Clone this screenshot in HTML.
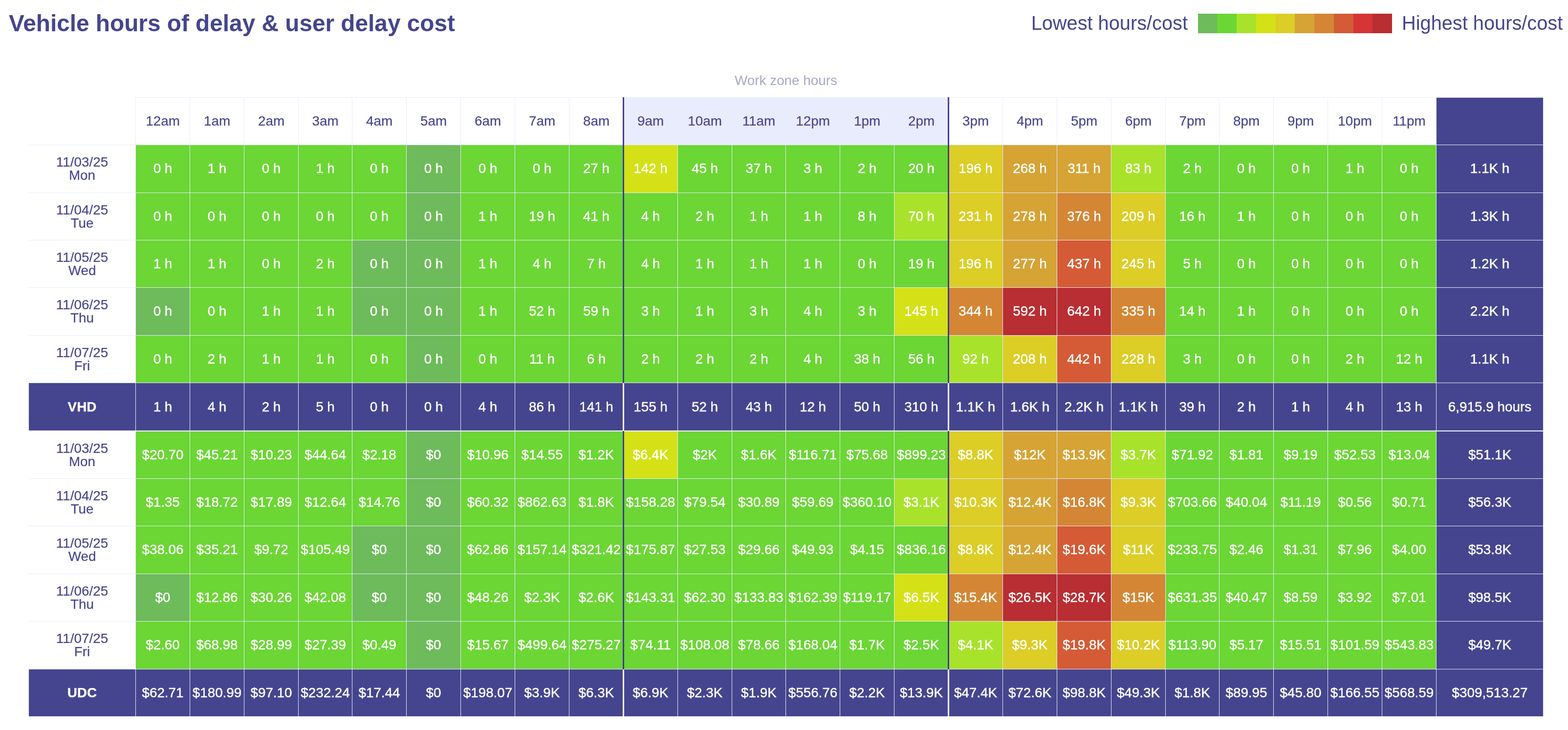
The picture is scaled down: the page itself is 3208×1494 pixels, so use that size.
<!DOCTYPE html>
<html lang="en"><head><meta charset="utf-8">
<title>Vehicle hours of delay &amp; user delay cost</title>
<style>
html,body{margin:0;padding:0;background:#fff;}
body{width:3208px;height:1494px;position:relative;overflow:hidden;font-family:"Liberation Sans",Arial,Helvetica,sans-serif;color:#45458f;}
h1{position:absolute;margin:0;left:18px;top:19px;font-size:47.76px;line-height:58px;font-weight:bold;white-space:nowrap;color:#45458f;}
.lg{position:absolute;font-size:39.75px;line-height:48px;top:23px;white-space:nowrap;color:#45458f;}
.sw{position:absolute;top:28px;height:40px;}
.wz{position:absolute;font-size:27.85px;line-height:36px;top:147px;left:1275px;width:666px;text-align:center;color:#a6a9c9;white-space:nowrap;}
.c,.t,.s{-webkit-text-stroke:0.4px;}
.s.b{-webkit-text-stroke:.25px;}
.h,.l{-webkit-text-stroke:.2px;}
.c,.h,.l,.t,.s{position:absolute;box-sizing:border-box;display:flex;align-items:center;justify-content:center;text-align:center;white-space:nowrap;font-size:27.85px;line-height:28px;border:0 solid #e8ecfc;border-top-width:1px;border-left-width:1px;}
.c{color:#fff;padding-bottom:1px;}
.h{color:#45458f;background:#fff;padding-bottom:1px;}
.h.z{background:#e8ecfd;}
.l{color:#45458f;background:#fff;flex-direction:column;border-left-width:0;line-height:27px;padding-bottom:1px;}
.t{color:#fff;background:#45458f;padding-bottom:1px;}
.r{border-right:1px solid #f1f3fe;}
.s{color:#fff;background:#45458f;border-bottom:1px solid #fff;padding-bottom:0px;}
.s.b{font-weight:bold;border-left-width:0;}
.vl{position:absolute;width:3px;background:#423d91;}
.vl.w{background:#fff;}

.k0{background:#6dbb5a;}
.k1{background:#6bd634;}
.k2{background:#a9e22b;}
.k3{background:#d4e117;}
.k4{background:#dccd27;}
.k5{background:#d6a335;}
.k6{background:#d48635;}
.k7{background:#d45b35;}
.k8{background:#d53535;}
.k9{background:#b82e32;}
</style></head><body>
<header>
<h1>Vehicle hours of delay &amp; user delay cost</h1>
<div class="legend">
<span class="lg" style="right:778px">Lowest hours/cost</span>
<span class="sw k0" style="left:2451px;width:39px"></span>
<span class="sw k1" style="left:2490px;width:40px"></span>
<span class="sw k2" style="left:2530px;width:40px"></span>
<span class="sw k3" style="left:2570px;width:40px"></span>
<span class="sw k4" style="left:2610px;width:39px"></span>
<span class="sw k5" style="left:2649px;width:40px"></span>
<span class="sw k6" style="left:2689px;width:40px"></span>
<span class="sw k7" style="left:2729px;width:40px"></span>
<span class="sw k8" style="left:2769px;width:39px"></span>
<span class="sw k9" style="left:2808px;width:40px"></span>
<span class="lg" style="left:2868px">Highest hours/cost</span>
</div>
</header>
<main class="heatmap" role="table" aria-label="Vehicle hours of delay and user delay cost by hour">
<div class="wz">Work zone hours</div>
<div class="row" role="row">
<div class="h" style="left:277px;top:199px;width:111px;height:97px">12am</div>
<div class="h" style="left:388px;top:199px;width:111px;height:97px">1am</div>
<div class="h" style="left:499px;top:199px;width:111px;height:97px">2am</div>
<div class="h" style="left:610px;top:199px;width:110px;height:97px">3am</div>
<div class="h" style="left:720px;top:199px;width:111px;height:97px">4am</div>
<div class="h" style="left:831px;top:199px;width:111px;height:97px">5am</div>
<div class="h" style="left:942px;top:199px;width:111px;height:97px">6am</div>
<div class="h" style="left:1053px;top:199px;width:111px;height:97px">7am</div>
<div class="h" style="left:1164px;top:199px;width:111px;height:97px">8am</div>
<div class="h z" style="left:1275px;top:199px;width:111px;height:97px">9am</div>
<div class="h z" style="left:1386px;top:199px;width:111px;height:97px">10am</div>
<div class="h z" style="left:1497px;top:199px;width:110px;height:97px">11am</div>
<div class="h z" style="left:1607px;top:199px;width:111px;height:97px">12pm</div>
<div class="h z" style="left:1718px;top:199px;width:111px;height:97px">1pm</div>
<div class="h z" style="left:1829px;top:199px;width:111px;height:97px">2pm</div>
<div class="h" style="left:1940px;top:199px;width:111px;height:97px">3pm</div>
<div class="h" style="left:2051px;top:199px;width:111px;height:97px">4pm</div>
<div class="h" style="left:2162px;top:199px;width:111px;height:97px">5pm</div>
<div class="h" style="left:2273px;top:199px;width:111px;height:97px">6pm</div>
<div class="h" style="left:2384px;top:199px;width:110px;height:97px">7pm</div>
<div class="h" style="left:2494px;top:199px;width:111px;height:97px">8pm</div>
<div class="h" style="left:2605px;top:199px;width:111px;height:97px">9pm</div>
<div class="h" style="left:2716px;top:199px;width:111px;height:97px">10pm</div>
<div class="h" style="left:2827px;top:199px;width:111px;height:97px">11pm</div>
<div class="t r" style="left:2938px;top:199px;width:220px;height:97px"></div>
</div>
<div class="row" role="row">
<div class="l" style="left:59px;top:296px;width:218px;height:98px"><span>11/03/25</span><span>Mon</span></div>
<div class="c k1" style="left:277px;top:296px;width:111px;height:98px">0 h</div>
<div class="c k1" style="left:388px;top:296px;width:111px;height:98px">1 h</div>
<div class="c k1" style="left:499px;top:296px;width:111px;height:98px">0 h</div>
<div class="c k1" style="left:610px;top:296px;width:110px;height:98px">1 h</div>
<div class="c k1" style="left:720px;top:296px;width:111px;height:98px">0 h</div>
<div class="c k0" style="left:831px;top:296px;width:111px;height:98px">0 h</div>
<div class="c k1" style="left:942px;top:296px;width:111px;height:98px">0 h</div>
<div class="c k1" style="left:1053px;top:296px;width:111px;height:98px">0 h</div>
<div class="c k1" style="left:1164px;top:296px;width:111px;height:98px">27 h</div>
<div class="c k3" style="left:1275px;top:296px;width:111px;height:98px">142 h</div>
<div class="c k1" style="left:1386px;top:296px;width:111px;height:98px">45 h</div>
<div class="c k1" style="left:1497px;top:296px;width:110px;height:98px">37 h</div>
<div class="c k1" style="left:1607px;top:296px;width:111px;height:98px">3 h</div>
<div class="c k1" style="left:1718px;top:296px;width:111px;height:98px">2 h</div>
<div class="c k1" style="left:1829px;top:296px;width:111px;height:98px">20 h</div>
<div class="c k4" style="left:1940px;top:296px;width:111px;height:98px">196 h</div>
<div class="c k5" style="left:2051px;top:296px;width:111px;height:98px">268 h</div>
<div class="c k5" style="left:2162px;top:296px;width:111px;height:98px">311 h</div>
<div class="c k2" style="left:2273px;top:296px;width:111px;height:98px">83 h</div>
<div class="c k1" style="left:2384px;top:296px;width:110px;height:98px">2 h</div>
<div class="c k1" style="left:2494px;top:296px;width:111px;height:98px">0 h</div>
<div class="c k1" style="left:2605px;top:296px;width:111px;height:98px">0 h</div>
<div class="c k1" style="left:2716px;top:296px;width:111px;height:98px">1 h</div>
<div class="c k1" style="left:2827px;top:296px;width:111px;height:98px">0 h</div>
<div class="t r" style="left:2938px;top:296px;width:220px;height:98px">1.1K h</div>
</div>
<div class="row" role="row">
<div class="l" style="left:59px;top:394px;width:218px;height:97px"><span>11/04/25</span><span>Tue</span></div>
<div class="c k1" style="left:277px;top:394px;width:111px;height:97px">0 h</div>
<div class="c k1" style="left:388px;top:394px;width:111px;height:97px">0 h</div>
<div class="c k1" style="left:499px;top:394px;width:111px;height:97px">0 h</div>
<div class="c k1" style="left:610px;top:394px;width:110px;height:97px">0 h</div>
<div class="c k1" style="left:720px;top:394px;width:111px;height:97px">0 h</div>
<div class="c k0" style="left:831px;top:394px;width:111px;height:97px">0 h</div>
<div class="c k1" style="left:942px;top:394px;width:111px;height:97px">1 h</div>
<div class="c k1" style="left:1053px;top:394px;width:111px;height:97px">19 h</div>
<div class="c k1" style="left:1164px;top:394px;width:111px;height:97px">41 h</div>
<div class="c k1" style="left:1275px;top:394px;width:111px;height:97px">4 h</div>
<div class="c k1" style="left:1386px;top:394px;width:111px;height:97px">2 h</div>
<div class="c k1" style="left:1497px;top:394px;width:110px;height:97px">1 h</div>
<div class="c k1" style="left:1607px;top:394px;width:111px;height:97px">1 h</div>
<div class="c k1" style="left:1718px;top:394px;width:111px;height:97px">8 h</div>
<div class="c k2" style="left:1829px;top:394px;width:111px;height:97px">70 h</div>
<div class="c k4" style="left:1940px;top:394px;width:111px;height:97px">231 h</div>
<div class="c k5" style="left:2051px;top:394px;width:111px;height:97px">278 h</div>
<div class="c k6" style="left:2162px;top:394px;width:111px;height:97px">376 h</div>
<div class="c k4" style="left:2273px;top:394px;width:111px;height:97px">209 h</div>
<div class="c k1" style="left:2384px;top:394px;width:110px;height:97px">16 h</div>
<div class="c k1" style="left:2494px;top:394px;width:111px;height:97px">1 h</div>
<div class="c k1" style="left:2605px;top:394px;width:111px;height:97px">0 h</div>
<div class="c k1" style="left:2716px;top:394px;width:111px;height:97px">0 h</div>
<div class="c k1" style="left:2827px;top:394px;width:111px;height:97px">0 h</div>
<div class="t r" style="left:2938px;top:394px;width:220px;height:97px">1.3K h</div>
</div>
<div class="row" role="row">
<div class="l" style="left:59px;top:491px;width:218px;height:97px"><span>11/05/25</span><span>Wed</span></div>
<div class="c k1" style="left:277px;top:491px;width:111px;height:97px">1 h</div>
<div class="c k1" style="left:388px;top:491px;width:111px;height:97px">1 h</div>
<div class="c k1" style="left:499px;top:491px;width:111px;height:97px">0 h</div>
<div class="c k1" style="left:610px;top:491px;width:110px;height:97px">2 h</div>
<div class="c k0" style="left:720px;top:491px;width:111px;height:97px">0 h</div>
<div class="c k0" style="left:831px;top:491px;width:111px;height:97px">0 h</div>
<div class="c k1" style="left:942px;top:491px;width:111px;height:97px">1 h</div>
<div class="c k1" style="left:1053px;top:491px;width:111px;height:97px">4 h</div>
<div class="c k1" style="left:1164px;top:491px;width:111px;height:97px">7 h</div>
<div class="c k1" style="left:1275px;top:491px;width:111px;height:97px">4 h</div>
<div class="c k1" style="left:1386px;top:491px;width:111px;height:97px">1 h</div>
<div class="c k1" style="left:1497px;top:491px;width:110px;height:97px">1 h</div>
<div class="c k1" style="left:1607px;top:491px;width:111px;height:97px">1 h</div>
<div class="c k1" style="left:1718px;top:491px;width:111px;height:97px">0 h</div>
<div class="c k1" style="left:1829px;top:491px;width:111px;height:97px">19 h</div>
<div class="c k4" style="left:1940px;top:491px;width:111px;height:97px">196 h</div>
<div class="c k5" style="left:2051px;top:491px;width:111px;height:97px">277 h</div>
<div class="c k7" style="left:2162px;top:491px;width:111px;height:97px">437 h</div>
<div class="c k4" style="left:2273px;top:491px;width:111px;height:97px">245 h</div>
<div class="c k1" style="left:2384px;top:491px;width:110px;height:97px">5 h</div>
<div class="c k1" style="left:2494px;top:491px;width:111px;height:97px">0 h</div>
<div class="c k1" style="left:2605px;top:491px;width:111px;height:97px">0 h</div>
<div class="c k1" style="left:2716px;top:491px;width:111px;height:97px">0 h</div>
<div class="c k1" style="left:2827px;top:491px;width:111px;height:97px">0 h</div>
<div class="t r" style="left:2938px;top:491px;width:220px;height:97px">1.2K h</div>
</div>
<div class="row" role="row">
<div class="l" style="left:59px;top:588px;width:218px;height:98px"><span>11/06/25</span><span>Thu</span></div>
<div class="c k0" style="left:277px;top:588px;width:111px;height:98px">0 h</div>
<div class="c k1" style="left:388px;top:588px;width:111px;height:98px">0 h</div>
<div class="c k1" style="left:499px;top:588px;width:111px;height:98px">1 h</div>
<div class="c k1" style="left:610px;top:588px;width:110px;height:98px">1 h</div>
<div class="c k0" style="left:720px;top:588px;width:111px;height:98px">0 h</div>
<div class="c k0" style="left:831px;top:588px;width:111px;height:98px">0 h</div>
<div class="c k1" style="left:942px;top:588px;width:111px;height:98px">1 h</div>
<div class="c k1" style="left:1053px;top:588px;width:111px;height:98px">52 h</div>
<div class="c k1" style="left:1164px;top:588px;width:111px;height:98px">59 h</div>
<div class="c k1" style="left:1275px;top:588px;width:111px;height:98px">3 h</div>
<div class="c k1" style="left:1386px;top:588px;width:111px;height:98px">1 h</div>
<div class="c k1" style="left:1497px;top:588px;width:110px;height:98px">3 h</div>
<div class="c k1" style="left:1607px;top:588px;width:111px;height:98px">4 h</div>
<div class="c k1" style="left:1718px;top:588px;width:111px;height:98px">3 h</div>
<div class="c k3" style="left:1829px;top:588px;width:111px;height:98px">145 h</div>
<div class="c k6" style="left:1940px;top:588px;width:111px;height:98px">344 h</div>
<div class="c k9" style="left:2051px;top:588px;width:111px;height:98px">592 h</div>
<div class="c k9" style="left:2162px;top:588px;width:111px;height:98px">642 h</div>
<div class="c k6" style="left:2273px;top:588px;width:111px;height:98px">335 h</div>
<div class="c k1" style="left:2384px;top:588px;width:110px;height:98px">14 h</div>
<div class="c k1" style="left:2494px;top:588px;width:111px;height:98px">1 h</div>
<div class="c k1" style="left:2605px;top:588px;width:111px;height:98px">0 h</div>
<div class="c k1" style="left:2716px;top:588px;width:111px;height:98px">0 h</div>
<div class="c k1" style="left:2827px;top:588px;width:111px;height:98px">0 h</div>
<div class="t r" style="left:2938px;top:588px;width:220px;height:98px">2.2K h</div>
</div>
<div class="row" role="row">
<div class="l" style="left:59px;top:686px;width:218px;height:97px"><span>11/07/25</span><span>Fri</span></div>
<div class="c k1" style="left:277px;top:686px;width:111px;height:97px">0 h</div>
<div class="c k1" style="left:388px;top:686px;width:111px;height:97px">2 h</div>
<div class="c k1" style="left:499px;top:686px;width:111px;height:97px">1 h</div>
<div class="c k1" style="left:610px;top:686px;width:110px;height:97px">1 h</div>
<div class="c k1" style="left:720px;top:686px;width:111px;height:97px">0 h</div>
<div class="c k0" style="left:831px;top:686px;width:111px;height:97px">0 h</div>
<div class="c k1" style="left:942px;top:686px;width:111px;height:97px">0 h</div>
<div class="c k1" style="left:1053px;top:686px;width:111px;height:97px">11 h</div>
<div class="c k1" style="left:1164px;top:686px;width:111px;height:97px">6 h</div>
<div class="c k1" style="left:1275px;top:686px;width:111px;height:97px">2 h</div>
<div class="c k1" style="left:1386px;top:686px;width:111px;height:97px">2 h</div>
<div class="c k1" style="left:1497px;top:686px;width:110px;height:97px">2 h</div>
<div class="c k1" style="left:1607px;top:686px;width:111px;height:97px">4 h</div>
<div class="c k1" style="left:1718px;top:686px;width:111px;height:97px">38 h</div>
<div class="c k1" style="left:1829px;top:686px;width:111px;height:97px">56 h</div>
<div class="c k2" style="left:1940px;top:686px;width:111px;height:97px">92 h</div>
<div class="c k4" style="left:2051px;top:686px;width:111px;height:97px">208 h</div>
<div class="c k7" style="left:2162px;top:686px;width:111px;height:97px">442 h</div>
<div class="c k4" style="left:2273px;top:686px;width:111px;height:97px">228 h</div>
<div class="c k1" style="left:2384px;top:686px;width:110px;height:97px">3 h</div>
<div class="c k1" style="left:2494px;top:686px;width:111px;height:97px">0 h</div>
<div class="c k1" style="left:2605px;top:686px;width:111px;height:97px">0 h</div>
<div class="c k1" style="left:2716px;top:686px;width:111px;height:97px">2 h</div>
<div class="c k1" style="left:2827px;top:686px;width:111px;height:97px">12 h</div>
<div class="t r" style="left:2938px;top:686px;width:220px;height:97px">1.1K h</div>
</div>
<div class="row" role="row">
<div class="s b" style="left:59px;top:783px;width:218px;height:99px">VHD</div>
<div class="s" style="left:277px;top:783px;width:111px;height:99px">1 h</div>
<div class="s" style="left:388px;top:783px;width:111px;height:99px">4 h</div>
<div class="s" style="left:499px;top:783px;width:111px;height:99px">2 h</div>
<div class="s" style="left:610px;top:783px;width:110px;height:99px">5 h</div>
<div class="s" style="left:720px;top:783px;width:111px;height:99px">0 h</div>
<div class="s" style="left:831px;top:783px;width:111px;height:99px">0 h</div>
<div class="s" style="left:942px;top:783px;width:111px;height:99px">4 h</div>
<div class="s" style="left:1053px;top:783px;width:111px;height:99px">86 h</div>
<div class="s" style="left:1164px;top:783px;width:111px;height:99px">141 h</div>
<div class="s" style="left:1275px;top:783px;width:111px;height:99px">155 h</div>
<div class="s" style="left:1386px;top:783px;width:111px;height:99px">52 h</div>
<div class="s" style="left:1497px;top:783px;width:110px;height:99px">43 h</div>
<div class="s" style="left:1607px;top:783px;width:111px;height:99px">12 h</div>
<div class="s" style="left:1718px;top:783px;width:111px;height:99px">50 h</div>
<div class="s" style="left:1829px;top:783px;width:111px;height:99px">310 h</div>
<div class="s" style="left:1940px;top:783px;width:111px;height:99px">1.1K h</div>
<div class="s" style="left:2051px;top:783px;width:111px;height:99px">1.6K h</div>
<div class="s" style="left:2162px;top:783px;width:111px;height:99px">2.2K h</div>
<div class="s" style="left:2273px;top:783px;width:111px;height:99px">1.1K h</div>
<div class="s" style="left:2384px;top:783px;width:110px;height:99px">39 h</div>
<div class="s" style="left:2494px;top:783px;width:111px;height:99px">2 h</div>
<div class="s" style="left:2605px;top:783px;width:111px;height:99px">1 h</div>
<div class="s" style="left:2716px;top:783px;width:111px;height:99px">4 h</div>
<div class="s" style="left:2827px;top:783px;width:111px;height:99px">13 h</div>
<div class="s r" style="left:2938px;top:783px;width:220px;height:99px">6,915.9 hours</div>
</div>
<div class="row" role="row">
<div class="l" style="left:59px;top:882px;width:218px;height:97px"><span>11/03/25</span><span>Mon</span></div>
<div class="c k1" style="left:277px;top:882px;width:111px;height:97px">$20.70</div>
<div class="c k1" style="left:388px;top:882px;width:111px;height:97px">$45.21</div>
<div class="c k1" style="left:499px;top:882px;width:111px;height:97px">$10.23</div>
<div class="c k1" style="left:610px;top:882px;width:110px;height:97px">$44.64</div>
<div class="c k1" style="left:720px;top:882px;width:111px;height:97px">$2.18</div>
<div class="c k0" style="left:831px;top:882px;width:111px;height:97px">$0</div>
<div class="c k1" style="left:942px;top:882px;width:111px;height:97px">$10.96</div>
<div class="c k1" style="left:1053px;top:882px;width:111px;height:97px">$14.55</div>
<div class="c k1" style="left:1164px;top:882px;width:111px;height:97px">$1.2K</div>
<div class="c k3" style="left:1275px;top:882px;width:111px;height:97px">$6.4K</div>
<div class="c k1" style="left:1386px;top:882px;width:111px;height:97px">$2K</div>
<div class="c k1" style="left:1497px;top:882px;width:110px;height:97px">$1.6K</div>
<div class="c k1" style="left:1607px;top:882px;width:111px;height:97px">$116.71</div>
<div class="c k1" style="left:1718px;top:882px;width:111px;height:97px">$75.68</div>
<div class="c k1" style="left:1829px;top:882px;width:111px;height:97px">$899.23</div>
<div class="c k4" style="left:1940px;top:882px;width:111px;height:97px">$8.8K</div>
<div class="c k5" style="left:2051px;top:882px;width:111px;height:97px">$12K</div>
<div class="c k5" style="left:2162px;top:882px;width:111px;height:97px">$13.9K</div>
<div class="c k2" style="left:2273px;top:882px;width:111px;height:97px">$3.7K</div>
<div class="c k1" style="left:2384px;top:882px;width:110px;height:97px">$71.92</div>
<div class="c k1" style="left:2494px;top:882px;width:111px;height:97px">$1.81</div>
<div class="c k1" style="left:2605px;top:882px;width:111px;height:97px">$9.19</div>
<div class="c k1" style="left:2716px;top:882px;width:111px;height:97px">$52.53</div>
<div class="c k1" style="left:2827px;top:882px;width:111px;height:97px">$13.04</div>
<div class="t r" style="left:2938px;top:882px;width:220px;height:97px">$51.1K</div>
</div>
<div class="row" role="row">
<div class="l" style="left:59px;top:979px;width:218px;height:97px"><span>11/04/25</span><span>Tue</span></div>
<div class="c k1" style="left:277px;top:979px;width:111px;height:97px">$1.35</div>
<div class="c k1" style="left:388px;top:979px;width:111px;height:97px">$18.72</div>
<div class="c k1" style="left:499px;top:979px;width:111px;height:97px">$17.89</div>
<div class="c k1" style="left:610px;top:979px;width:110px;height:97px">$12.64</div>
<div class="c k1" style="left:720px;top:979px;width:111px;height:97px">$14.76</div>
<div class="c k0" style="left:831px;top:979px;width:111px;height:97px">$0</div>
<div class="c k1" style="left:942px;top:979px;width:111px;height:97px">$60.32</div>
<div class="c k1" style="left:1053px;top:979px;width:111px;height:97px">$862.63</div>
<div class="c k1" style="left:1164px;top:979px;width:111px;height:97px">$1.8K</div>
<div class="c k1" style="left:1275px;top:979px;width:111px;height:97px">$158.28</div>
<div class="c k1" style="left:1386px;top:979px;width:111px;height:97px">$79.54</div>
<div class="c k1" style="left:1497px;top:979px;width:110px;height:97px">$30.89</div>
<div class="c k1" style="left:1607px;top:979px;width:111px;height:97px">$59.69</div>
<div class="c k1" style="left:1718px;top:979px;width:111px;height:97px">$360.10</div>
<div class="c k2" style="left:1829px;top:979px;width:111px;height:97px">$3.1K</div>
<div class="c k4" style="left:1940px;top:979px;width:111px;height:97px">$10.3K</div>
<div class="c k5" style="left:2051px;top:979px;width:111px;height:97px">$12.4K</div>
<div class="c k6" style="left:2162px;top:979px;width:111px;height:97px">$16.8K</div>
<div class="c k4" style="left:2273px;top:979px;width:111px;height:97px">$9.3K</div>
<div class="c k1" style="left:2384px;top:979px;width:110px;height:97px">$703.66</div>
<div class="c k1" style="left:2494px;top:979px;width:111px;height:97px">$40.04</div>
<div class="c k1" style="left:2605px;top:979px;width:111px;height:97px">$11.19</div>
<div class="c k1" style="left:2716px;top:979px;width:111px;height:97px">$0.56</div>
<div class="c k1" style="left:2827px;top:979px;width:111px;height:97px">$0.71</div>
<div class="t r" style="left:2938px;top:979px;width:220px;height:97px">$56.3K</div>
</div>
<div class="row" role="row">
<div class="l" style="left:59px;top:1076px;width:218px;height:98px"><span>11/05/25</span><span>Wed</span></div>
<div class="c k1" style="left:277px;top:1076px;width:111px;height:98px">$38.06</div>
<div class="c k1" style="left:388px;top:1076px;width:111px;height:98px">$35.21</div>
<div class="c k1" style="left:499px;top:1076px;width:111px;height:98px">$9.72</div>
<div class="c k1" style="left:610px;top:1076px;width:110px;height:98px">$105.49</div>
<div class="c k0" style="left:720px;top:1076px;width:111px;height:98px">$0</div>
<div class="c k0" style="left:831px;top:1076px;width:111px;height:98px">$0</div>
<div class="c k1" style="left:942px;top:1076px;width:111px;height:98px">$62.86</div>
<div class="c k1" style="left:1053px;top:1076px;width:111px;height:98px">$157.14</div>
<div class="c k1" style="left:1164px;top:1076px;width:111px;height:98px">$321.42</div>
<div class="c k1" style="left:1275px;top:1076px;width:111px;height:98px">$175.87</div>
<div class="c k1" style="left:1386px;top:1076px;width:111px;height:98px">$27.53</div>
<div class="c k1" style="left:1497px;top:1076px;width:110px;height:98px">$29.66</div>
<div class="c k1" style="left:1607px;top:1076px;width:111px;height:98px">$49.93</div>
<div class="c k1" style="left:1718px;top:1076px;width:111px;height:98px">$4.15</div>
<div class="c k1" style="left:1829px;top:1076px;width:111px;height:98px">$836.16</div>
<div class="c k4" style="left:1940px;top:1076px;width:111px;height:98px">$8.8K</div>
<div class="c k5" style="left:2051px;top:1076px;width:111px;height:98px">$12.4K</div>
<div class="c k7" style="left:2162px;top:1076px;width:111px;height:98px">$19.6K</div>
<div class="c k4" style="left:2273px;top:1076px;width:111px;height:98px">$11K</div>
<div class="c k1" style="left:2384px;top:1076px;width:110px;height:98px">$233.75</div>
<div class="c k1" style="left:2494px;top:1076px;width:111px;height:98px">$2.46</div>
<div class="c k1" style="left:2605px;top:1076px;width:111px;height:98px">$1.31</div>
<div class="c k1" style="left:2716px;top:1076px;width:111px;height:98px">$7.96</div>
<div class="c k1" style="left:2827px;top:1076px;width:111px;height:98px">$4.00</div>
<div class="t r" style="left:2938px;top:1076px;width:220px;height:98px">$53.8K</div>
</div>
<div class="row" role="row">
<div class="l" style="left:59px;top:1174px;width:218px;height:97px"><span>11/06/25</span><span>Thu</span></div>
<div class="c k0" style="left:277px;top:1174px;width:111px;height:97px">$0</div>
<div class="c k1" style="left:388px;top:1174px;width:111px;height:97px">$12.86</div>
<div class="c k1" style="left:499px;top:1174px;width:111px;height:97px">$30.26</div>
<div class="c k1" style="left:610px;top:1174px;width:110px;height:97px">$42.08</div>
<div class="c k0" style="left:720px;top:1174px;width:111px;height:97px">$0</div>
<div class="c k0" style="left:831px;top:1174px;width:111px;height:97px">$0</div>
<div class="c k1" style="left:942px;top:1174px;width:111px;height:97px">$48.26</div>
<div class="c k1" style="left:1053px;top:1174px;width:111px;height:97px">$2.3K</div>
<div class="c k1" style="left:1164px;top:1174px;width:111px;height:97px">$2.6K</div>
<div class="c k1" style="left:1275px;top:1174px;width:111px;height:97px">$143.31</div>
<div class="c k1" style="left:1386px;top:1174px;width:111px;height:97px">$62.30</div>
<div class="c k1" style="left:1497px;top:1174px;width:110px;height:97px">$133.83</div>
<div class="c k1" style="left:1607px;top:1174px;width:111px;height:97px">$162.39</div>
<div class="c k1" style="left:1718px;top:1174px;width:111px;height:97px">$119.17</div>
<div class="c k3" style="left:1829px;top:1174px;width:111px;height:97px">$6.5K</div>
<div class="c k6" style="left:1940px;top:1174px;width:111px;height:97px">$15.4K</div>
<div class="c k9" style="left:2051px;top:1174px;width:111px;height:97px">$26.5K</div>
<div class="c k9" style="left:2162px;top:1174px;width:111px;height:97px">$28.7K</div>
<div class="c k6" style="left:2273px;top:1174px;width:111px;height:97px">$15K</div>
<div class="c k1" style="left:2384px;top:1174px;width:110px;height:97px">$631.35</div>
<div class="c k1" style="left:2494px;top:1174px;width:111px;height:97px">$40.47</div>
<div class="c k1" style="left:2605px;top:1174px;width:111px;height:97px">$8.59</div>
<div class="c k1" style="left:2716px;top:1174px;width:111px;height:97px">$3.92</div>
<div class="c k1" style="left:2827px;top:1174px;width:111px;height:97px">$7.01</div>
<div class="t r" style="left:2938px;top:1174px;width:220px;height:97px">$98.5K</div>
</div>
<div class="row" role="row">
<div class="l" style="left:59px;top:1271px;width:218px;height:98px"><span>11/07/25</span><span>Fri</span></div>
<div class="c k1" style="left:277px;top:1271px;width:111px;height:98px">$2.60</div>
<div class="c k1" style="left:388px;top:1271px;width:111px;height:98px">$68.98</div>
<div class="c k1" style="left:499px;top:1271px;width:111px;height:98px">$28.99</div>
<div class="c k1" style="left:610px;top:1271px;width:110px;height:98px">$27.39</div>
<div class="c k1" style="left:720px;top:1271px;width:111px;height:98px">$0.49</div>
<div class="c k0" style="left:831px;top:1271px;width:111px;height:98px">$0</div>
<div class="c k1" style="left:942px;top:1271px;width:111px;height:98px">$15.67</div>
<div class="c k1" style="left:1053px;top:1271px;width:111px;height:98px">$499.64</div>
<div class="c k1" style="left:1164px;top:1271px;width:111px;height:98px">$275.27</div>
<div class="c k1" style="left:1275px;top:1271px;width:111px;height:98px">$74.11</div>
<div class="c k1" style="left:1386px;top:1271px;width:111px;height:98px">$108.08</div>
<div class="c k1" style="left:1497px;top:1271px;width:110px;height:98px">$78.66</div>
<div class="c k1" style="left:1607px;top:1271px;width:111px;height:98px">$168.04</div>
<div class="c k1" style="left:1718px;top:1271px;width:111px;height:98px">$1.7K</div>
<div class="c k1" style="left:1829px;top:1271px;width:111px;height:98px">$2.5K</div>
<div class="c k2" style="left:1940px;top:1271px;width:111px;height:98px">$4.1K</div>
<div class="c k4" style="left:2051px;top:1271px;width:111px;height:98px">$9.3K</div>
<div class="c k7" style="left:2162px;top:1271px;width:111px;height:98px">$19.8K</div>
<div class="c k4" style="left:2273px;top:1271px;width:111px;height:98px">$10.2K</div>
<div class="c k1" style="left:2384px;top:1271px;width:110px;height:98px">$113.90</div>
<div class="c k1" style="left:2494px;top:1271px;width:111px;height:98px">$5.17</div>
<div class="c k1" style="left:2605px;top:1271px;width:111px;height:98px">$15.51</div>
<div class="c k1" style="left:2716px;top:1271px;width:111px;height:98px">$101.59</div>
<div class="c k1" style="left:2827px;top:1271px;width:111px;height:98px">$543.83</div>
<div class="t r" style="left:2938px;top:1271px;width:220px;height:98px">$49.7K</div>
</div>
<div class="row" role="row">
<div class="s b" style="left:59px;top:1369px;width:218px;height:98px">UDC</div>
<div class="s" style="left:277px;top:1369px;width:111px;height:98px">$62.71</div>
<div class="s" style="left:388px;top:1369px;width:111px;height:98px">$180.99</div>
<div class="s" style="left:499px;top:1369px;width:111px;height:98px">$97.10</div>
<div class="s" style="left:610px;top:1369px;width:110px;height:98px">$232.24</div>
<div class="s" style="left:720px;top:1369px;width:111px;height:98px">$17.44</div>
<div class="s" style="left:831px;top:1369px;width:111px;height:98px">$0</div>
<div class="s" style="left:942px;top:1369px;width:111px;height:98px">$198.07</div>
<div class="s" style="left:1053px;top:1369px;width:111px;height:98px">$3.9K</div>
<div class="s" style="left:1164px;top:1369px;width:111px;height:98px">$6.3K</div>
<div class="s" style="left:1275px;top:1369px;width:111px;height:98px">$6.9K</div>
<div class="s" style="left:1386px;top:1369px;width:111px;height:98px">$2.3K</div>
<div class="s" style="left:1497px;top:1369px;width:110px;height:98px">$1.9K</div>
<div class="s" style="left:1607px;top:1369px;width:111px;height:98px">$556.76</div>
<div class="s" style="left:1718px;top:1369px;width:111px;height:98px">$2.2K</div>
<div class="s" style="left:1829px;top:1369px;width:111px;height:98px">$13.9K</div>
<div class="s" style="left:1940px;top:1369px;width:111px;height:98px">$47.4K</div>
<div class="s" style="left:2051px;top:1369px;width:111px;height:98px">$72.6K</div>
<div class="s" style="left:2162px;top:1369px;width:111px;height:98px">$98.8K</div>
<div class="s" style="left:2273px;top:1369px;width:111px;height:98px">$49.3K</div>
<div class="s" style="left:2384px;top:1369px;width:110px;height:98px">$1.8K</div>
<div class="s" style="left:2494px;top:1369px;width:111px;height:98px">$89.95</div>
<div class="s" style="left:2605px;top:1369px;width:111px;height:98px">$45.80</div>
<div class="s" style="left:2716px;top:1369px;width:111px;height:98px">$166.55</div>
<div class="s" style="left:2827px;top:1369px;width:111px;height:98px">$568.59</div>
<div class="s r" style="left:2938px;top:1369px;width:220px;height:98px">$309,513.27</div>
</div>
<div class="vl" style="left:1274px;top:199px;height:585px"></div>
<div class="vl w" style="left:1274px;top:784px;height:98px"></div>
<div class="vl" style="left:1274px;top:882px;height:488px"></div>
<div class="vl w" style="left:1274px;top:1370px;height:97px"></div>
<div class="vl" style="left:1939px;top:199px;height:585px"></div>
<div class="vl w" style="left:1939px;top:784px;height:98px"></div>
<div class="vl" style="left:1939px;top:882px;height:488px"></div>
<div class="vl w" style="left:1939px;top:1370px;height:97px"></div>
</main>
</body></html>
